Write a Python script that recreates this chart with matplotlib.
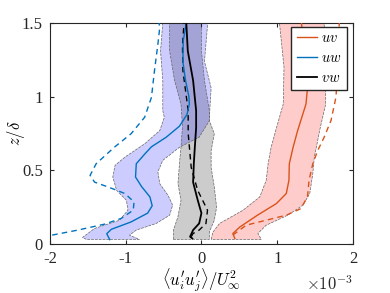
import matplotlib
matplotlib.use("Agg")
import matplotlib.pyplot as plt
import numpy as np

plt.rcParams['font.family'] = ['Liberation Serif', 'DejaVu Serif']
plt.rcParams['mathtext.fontset'] = 'cm'

# ---- data (values in units of 1e-3) ----
# uw (blue)
uw_mean_z = [0.03, 0.07, 0.10, 0.15, 0.21, 0.26, 0.32, 0.39, 0.455, 0.545, 0.61, 0.66, 0.725, 0.80, 0.88, 0.95, 1.0, 1.11, 1.24, 1.38, 1.5]
uw_mean_x = [-1.21, -1.25, -1.19, -0.93, -0.71, -0.65, -0.68, -0.79, -0.87, -0.86, -0.75, -0.66, -0.465, -0.29, -0.19, -0.16, -0.165, -0.21, -0.245, -0.24, -0.20]
uw_dash_z = [0.061, 0.095, 0.135, 0.174, 0.23, 0.286, 0.343, 0.387, 0.42, 0.466, 0.545, 0.657, 0.748, 0.86, 0.995, 1.176, 1.356, 1.47, 1.5]
uw_dash_x = [-1.97, -1.63, -1.28, -1.06, -0.90, -0.89, -1.01, -1.23, -1.41, -1.47, -1.39, -1.15, -0.93, -0.75, -0.66, -0.62, -0.575, -0.55, -0.56]
uw_lo_z = [0.032, 0.045, 0.106, 0.162, 0.23, 0.297, 0.365, 0.455, 0.534, 0.59, 0.68, 0.77, 0.86, 0.905, 1.11, 1.31, 1.5]
uw_lo_x = [-1.52, -1.57, -1.41, -1.08, -0.97, -0.99, -1.12, -1.17, -1.14, -1.01, -0.75, -0.55, -0.49, -0.51, -0.51, -0.54, -0.51]
uw_hi_z = [0.032, 0.06, 0.095, 0.14, 0.196, 0.264, 0.33, 0.41, 0.49, 0.568, 0.657, 0.725, 0.838, 0.905, 1.06, 1.24, 1.5]
uw_hi_x = [-0.82, -0.95, -0.86, -0.595, -0.42, -0.38, -0.44, -0.55, -0.575, -0.51, -0.29, -0.03, 0.105, 0.11, 0.128, 0.04, 0.083]

# vw (black)
vw_mean_z = [0.038, 0.05, 0.095, 0.14, 0.21, 0.30, 0.42, 0.55, 0.635, 0.79, 0.905, 1.11, 1.31, 1.5]
vw_mean_x = [-0.12, -0.15, -0.11, -0.03, 0.0, -0.05, -0.11, -0.10, -0.09, -0.07, -0.07, -0.11, -0.18, -0.20]
vw_dash_z = [0.05, 0.072, 0.095, 0.14, 0.23, 0.365, 0.52, 0.75, 0.905, 1.18, 1.35, 1.5]
vw_dash_x = [-0.135, -0.11, -0.03, 0.06, 0.08, -0.05, -0.135, -0.175, -0.175, -0.245, -0.25, -0.23]
vw_lo_z = [0.032, 0.095, 0.185, 0.297, 0.41, 0.545, 0.657, 0.80, 0.95, 1.11, 1.31, 1.5]
vw_lo_x = [-0.37, -0.37, -0.31, -0.27, -0.31, -0.29, -0.27, -0.25, -0.27, -0.355, -0.42, -0.42]
vw_hi_z = [0.032, 0.083, 0.162, 0.25, 0.387, 0.52, 0.635, 0.748, 0.838, 0.905, 1.11, 1.31, 1.5]
vw_hi_x = [0.105, 0.105, 0.17, 0.20, 0.17, 0.128, 0.128, 0.17, 0.105, 0.105, 0.04, 0.0, 0.0]

# uv (red)
uv_mean_z = [0.038, 0.072, 0.117, 0.196, 0.275, 0.343, 0.432, 0.545, 0.657, 0.77, 0.95, 1.06, 1.29, 1.5]
uv_mean_x = [0.44, 0.415, 0.51, 0.74, 0.99, 1.12, 1.155, 1.16, 1.21, 1.27, 1.38, 1.40, 1.36, 1.32]
uv_dash_z = [0.061, 0.128, 0.162, 0.196, 0.24, 0.32, 0.432, 0.545, 0.635, 0.725, 0.838, 0.995, 1.176, 1.40, 1.5]
uv_dash_x = [0.415, 0.59, 0.855, 1.12, 1.31, 1.40, 1.42, 1.47, 1.535, 1.62, 1.71, 1.775, 1.80, 1.81, 1.82]
uv_lo_z = [0.032, 0.08, 0.14, 0.23, 0.32, 0.432, 0.545, 0.657, 0.77, 0.95, 1.2, 1.5]
uv_lo_x = [0.13, 0.15, 0.24, 0.55, 0.77, 0.855, 0.88, 0.92, 0.98, 1.08, 1.09, 1.03]
uv_hi_z = [0.032, 0.072, 0.128, 0.196, 0.264, 0.343, 0.478, 0.59, 0.703, 0.77, 0.95, 1.2, 1.5]
uv_hi_x = [0.79, 0.745, 0.855, 1.14, 1.34, 1.43, 1.47, 1.49, 1.535, 1.56, 1.64, 1.64, 1.62]

labels = ['$uv$', '$uw$', '$vw$']
c_uv = (0.85, 0.325, 0.098)
c_uw = (0.0, 0.447, 0.741)
c_vw = (0.0, 0.0, 0.0)
axc = (0.15, 0.15, 0.15)

fig = plt.figure(figsize=(3.9, 2.93), dpi=100)
ax = fig.add_axes([0.128, 0.167, 0.777, 0.7545])

def band(lo_x, lo_z, hi_x, hi_z, fc):
    xs = list(lo_x) + list(hi_x)[::-1]
    zs = list(lo_z) + list(hi_z)[::-1]
    ax.fill(xs, zs, facecolor=fc, alpha=0.2, edgecolor='none', zorder=1)
    ax.fill(xs, zs, facecolor='none', edgecolor=(0.4, 0.4, 0.4), lw=0.5,
            ls=(0, (4, 1.5)), zorder=1.5)

band(vw_lo_x, vw_lo_z, vw_hi_x, vw_hi_z, 'k')
band(uw_lo_x, uw_lo_z, uw_hi_x, uw_hi_z, 'b')
band(uv_lo_x, uv_lo_z, uv_hi_x, uv_hi_z, 'r')

dash = (0, (4, 3))
ax.plot(uv_dash_x, uv_dash_z, color=c_uv, lw=1.0, ls=dash, zorder=3)
ax.plot(uw_dash_x, uw_dash_z, color=c_uw, lw=1.0, ls=dash, zorder=3)
ax.plot(vw_dash_x, vw_dash_z, color=c_vw, lw=1.0, ls=dash, zorder=3)
l1, = ax.plot(uv_mean_x, uv_mean_z, color=c_uv, lw=1.0, zorder=4)
l2, = ax.plot(uw_mean_x, uw_mean_z, color=c_uw, lw=1.0, zorder=4)
l3, = ax.plot(vw_mean_x, vw_mean_z, color=c_vw, lw=1.3, zorder=4)

ax.set_xlim(-2, 2)
ax.set_ylim(0, 1.5)
ax.set_xticks([-2, -1, 0, 1, 2])
ax.set_xticklabels(['-2', '-1', '0', '1', '2'])
ax.set_yticks([0, 0.5, 1, 1.5])
ax.set_yticklabels(['0', '0.5', '1', '1.5'])
ax.tick_params(direction='in', top=True, right=True, labelsize=12, length=3,
               width=0.8, colors=axc, pad=5)
for s in ax.spines.values():
    s.set_color(axc)
    s.set_linewidth(0.8)

ax.set_xlabel(r"$\langle u_i'u_j'\rangle/U_\infty^2$", fontsize=12, va='top')
ax.xaxis.set_label_coords(0.5, -0.102)
ax.set_ylabel(r"$z/\delta$", fontsize=12, va='center')
ax.yaxis.set_label_coords(-0.112, 0.5)
ax.text(1.0, -0.185, r"$\times10^{-3}$", transform=ax.transAxes, fontsize=12,
        ha='right', va='center', color=axc)

leg = ax.legend([l1, l2, l3], labels, loc='upper right', bbox_to_anchor=(0.98, 0.982),
                borderaxespad=0, fontsize=10.5, handlelength=1.4, handletextpad=0.3,
                labelspacing=0.45, borderpad=0.35, fancybox=False, framealpha=1)
leg.get_frame().set_edgecolor(axc)
leg.get_frame().set_linewidth(1.0)

fig.savefig('out.png', dpi=100)
